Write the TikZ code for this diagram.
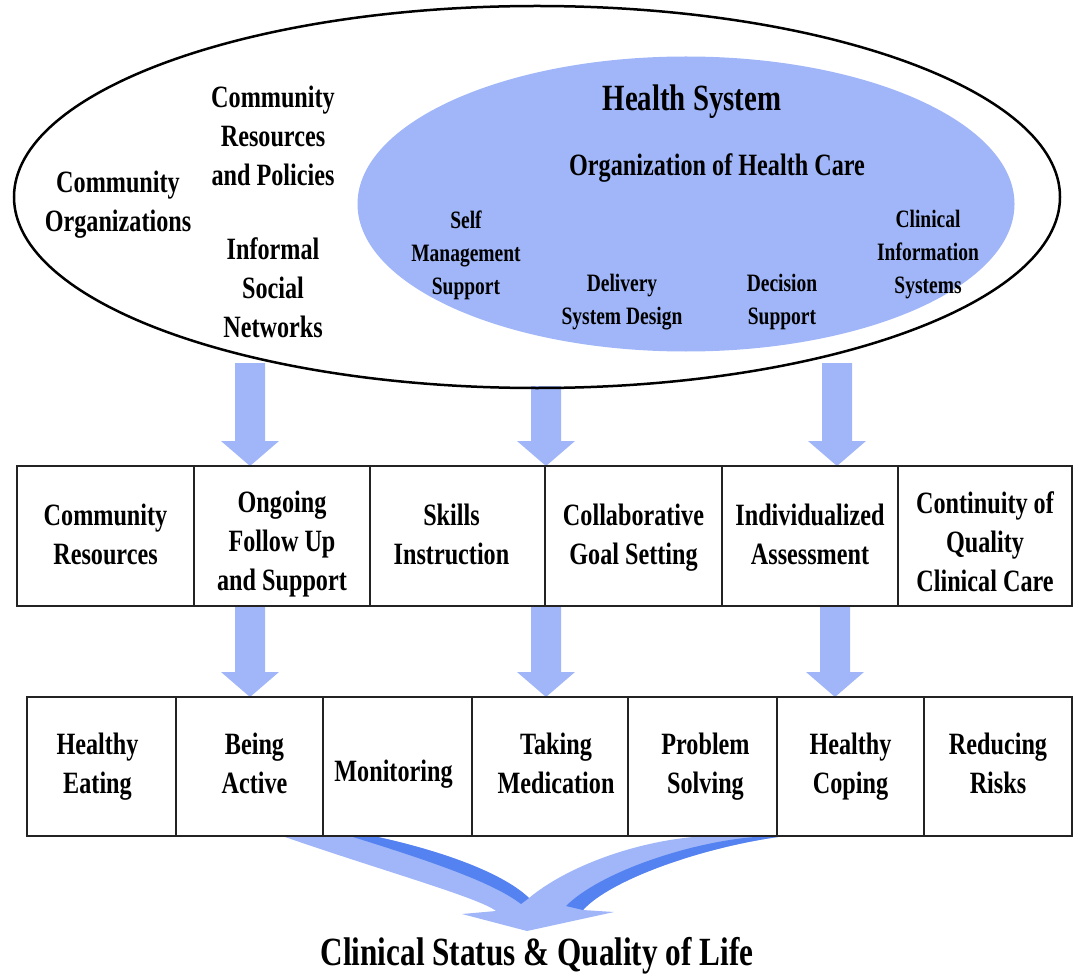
\documentclass[tikz,border=0pt]{standalone}
\usepackage{fontspec}
\setmainfont{Liberation Serif}[FakeStretch=0.78]
\usetikzlibrary{shapes.geometric,calc}

\definecolor{paleblue}{RGB}{160,182,248}
\definecolor{deepblue}{RGB}{84,130,240}
\definecolor{rule}{RGB}{35,35,35}

\tikzset{
  lbl/.style={align=center, inner sep=0pt, font=\bfseries\fontsize{31}{39}\selectfont},
  smalllbl/.style={align=center, inner sep=0pt, font=\bfseries\fontsize{25}{33}\selectfont},
  cell/.style={draw=rule, line width=1.3pt, minimum height=140pt, inner sep=0pt},
  celltext/.style={align=center, inner sep=0pt, font=\bfseries\fontsize{31}{39}\selectfont,
    execute at begin node=\strut, execute at end node=\strut},
  blockarrow/.style={fill=paleblue},
}

% straight block arrow from the shaft top #1 down to the tip #2
\newcommand\blockdown[2]{%
  \fill[blockarrow] ($(#1)+(-15,0)$) -- ($(#1)+(15,0)$) -- ($(#2)+(15,-25)$)
    -- ($(#2)+(29,-25)$) -- (#2) -- ($(#2)+(-29,-25)$) -- ($(#2)+(-15,-25)$) -- cycle;
}

\begin{document}
\begin{tikzpicture}[x=1pt, y=-1pt]
\useasboundingbox (0,0) rectangle (1078,976);

% health system (inner ellipse)
\node[ellipse, fill=paleblue, inner sep=0pt, minimum width=657pt, minimum height=295pt] (hsys) at (686,204) {};

% community labels
\node[lbl] (cres) at (273,136) {Community\\Resources\\and Policies};
\node[lbl] (corg) at (118,205) {Community\\Organizations};
\node[lbl] (isn)  at (273,288) {Informal\\Social\\Networks};

% health system labels
\node[inner sep=0pt, font=\bfseries\fontsize{37}{44}\selectfont] (hstitle) at (692,102) {Health System};
\node[lbl] (ohc) at (717,168) {Organization of Health Care};
\node[smalllbl] (sms) at (466,255) {Self\\Management\\Support};
\node[smalllbl] (dsd) at (622,302) {Delivery\\System Design};
\node[smalllbl] (dsu) at (782,302) {Decision\\Support};
\node[smalllbl] (cis) at (928,255) {Clinical\\Information\\Systems};

% arrows from the community into the first row
\coordinate (a1s) at (250,363); \coordinate (a1e) at (250,466);
\coordinate (a2s) at (546,386); \coordinate (a2e) at (546,466);
\coordinate (a3s) at (837,363); \coordinate (a3e) at (837,466);
\blockdown{a1s}{a1e}
\blockdown{a2s}{a2e}
\blockdown{a3s}{a3e}

% community (outer ellipse)
\node[ellipse, draw=black, line width=2.5pt, inner sep=0pt, minimum width=1046pt, minimum height=382pt] (comm) at (537,197) {};

% arrows from the first row into the second row
\coordinate (b1s) at (250,607); \coordinate (b1e) at (250,697);
\coordinate (b2s) at (546,607); \coordinate (b2e) at (546,697);
\coordinate (b3s) at (835,607); \coordinate (b3e) at (835,697);
\blockdown{b1s}{b1e}
\blockdown{b2s}{b2e}
\blockdown{b3s}{b3e}

% first row
\node[cell, minimum width=177pt] (r11) at (105.5,536) {};
\node[cell, minimum width=176pt] (r12) at (282,536) {};
\node[cell, minimum width=175pt] (r13) at (457.5,536) {};
\node[cell, minimum width=177pt] (r14) at (633.5,536) {};
\node[cell, minimum width=176pt] (r15) at (810,536) {};
\node[cell, minimum width=174pt] (r16) at (985,536) {};
\node[celltext] (t11) at ([yshift=-4pt]r11.center) {Community\\Resources};
\node[celltext] (t12) at ([yshift=-11pt]r12.center) {Ongoing\\Follow Up\\and Support};
\node[celltext] (t13) at ([xshift=-6pt,yshift=-4pt]r13.center) {Skills\\Instruction};
\node[celltext] (t14) at ([yshift=-4pt]r14.center) {Collaborative\\Goal Setting};
\node[celltext] (t15) at ([yshift=-4pt]r15.center) {Individualized\\Assessment};
\node[celltext] (t16) at ([yshift=-11pt]r16.center) {Continuity of\\Quality\\Clinical Care};

% second row
\node[cell, minimum width=149pt, minimum height=139pt] (r21) at (101.5,766.5) {};
\node[cell, minimum width=147pt, minimum height=139pt] (r22) at (249.5,766.5) {};
\node[cell, minimum width=149pt, minimum height=139pt] (r23) at (397.5,766.5) {};
\node[cell, minimum width=156pt, minimum height=139pt] (r24) at (550,766.5) {};
\node[cell, minimum width=149pt, minimum height=139pt] (r25) at (702.5,766.5) {};
\node[cell, minimum width=147pt, minimum height=139pt] (r26) at (850.5,766.5) {};
\node[cell, minimum width=148pt, minimum height=139pt] (r27) at (998,766.5) {};
\node[celltext] (t21) at ([xshift=-4pt,yshift=-3pt]r21.center) {Healthy\\Eating};
\node[celltext] (t22) at ([xshift=5pt,yshift=-3pt]r22.center) {Being\\Active};
\node[celltext] (t23) at ([xshift=-4pt,yshift=-7pt]r23.center) {Monitoring};
\node[celltext] (t24) at ([xshift=6pt,yshift=-3pt]r24.center) {Taking\\Medication};
\node[celltext] (t25) at ([xshift=3pt,yshift=-3pt]r25.center) {Problem\\Solving};
\node[celltext] (t26) at ([yshift=-3pt]r26.center) {Healthy\\Coping};
\node[celltext] (t27) at ([yshift=-3pt]r27.center) {Reducing\\Risks};

% merging arrow towards the outcome
\fill[paleblue] (285,837) -- (378,837)
  .. controls (450,853) and (505,875) .. (529,898)
  .. controls (565,868) and (630,843) .. (693,837)
  -- (778,837)
  .. controls (700,848) and (610,880) .. (583,910)
  -- (614,912) -- (527,931) -- (462,914) -- (496,911)
  .. controls (480,898) and (380,870) .. (285,837) -- cycle;
\fill[deepblue] (353,837) -- (378,837)
  .. controls (450,853) and (505,875) .. (529,898)
  -- (521,904) .. controls (495,884) and (440,864) .. (353,837) -- cycle;
\fill[deepblue] (778,837)
  .. controls (700,848) and (610,880) .. (583,910)
  -- (566,906) .. controls (600,872) and (690,842) .. (755,837) -- cycle;

% outcome
\node[inner sep=0pt, font=\bfseries\fontsize{40}{48}\selectfont] (outcome) at (537,956) {Clinical Status \& Quality of Life};
\end{tikzpicture}
\end{document}
